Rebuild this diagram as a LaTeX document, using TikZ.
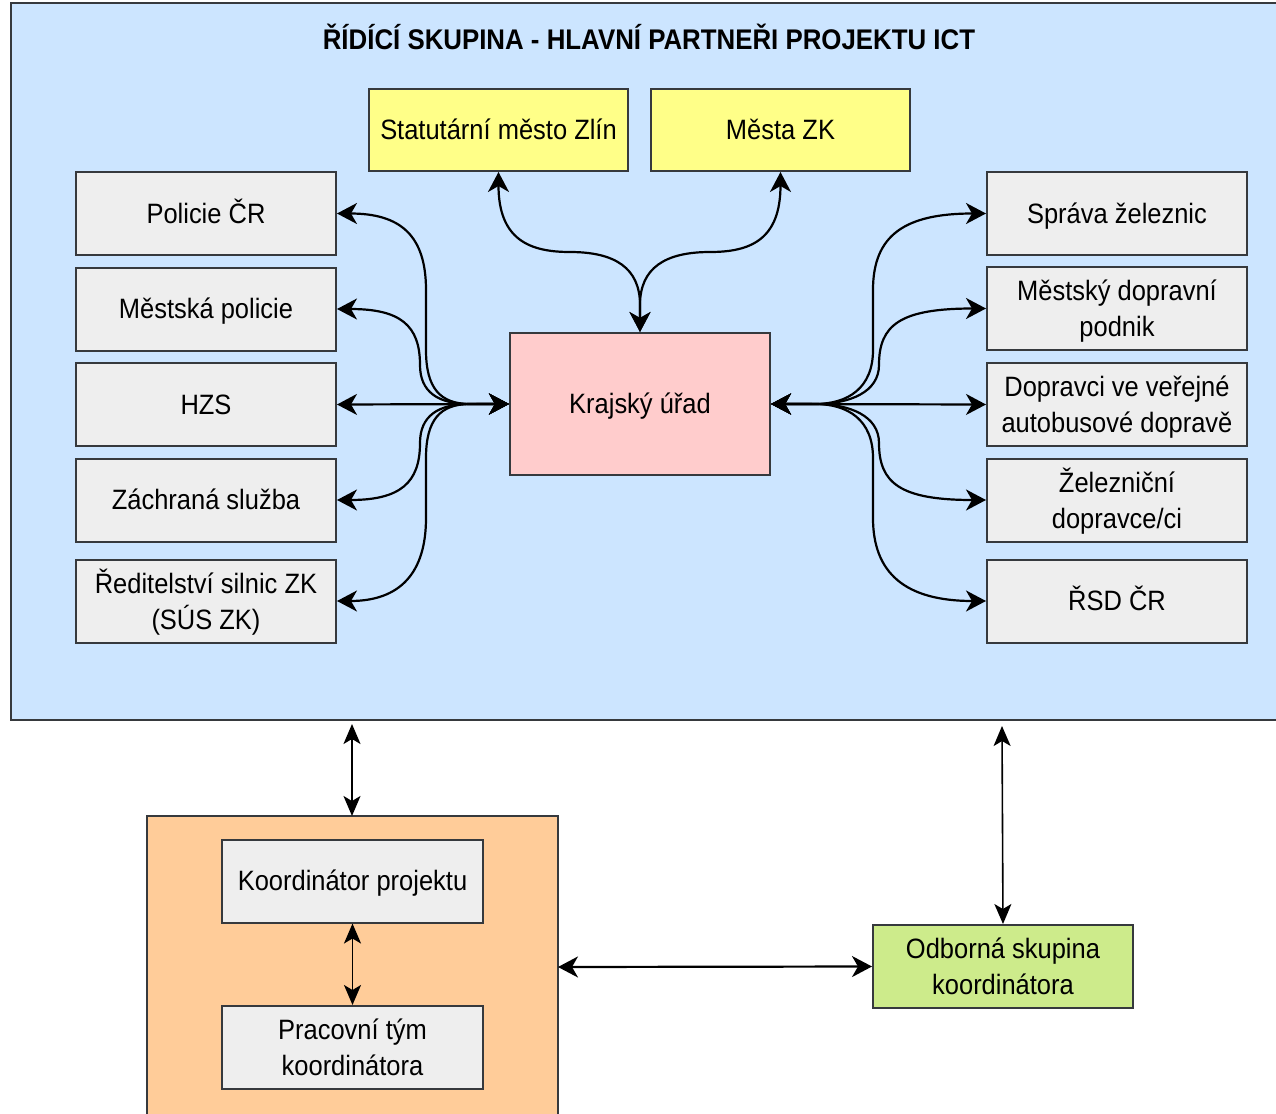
\documentclass[tikz,border=0pt]{standalone}
\usepackage{fontspec}
\setmainfont{Liberation Sans}[FakeStretch=0.91]
\usetikzlibrary{arrows.meta}
\definecolor{bluefill}{RGB}{204,229,255}
\definecolor{yellowfill}{RGB}{255,255,136}
\definecolor{greyfill}{RGB}{238,238,238}
\definecolor{pinkfill}{RGB}{255,204,204}
\definecolor{orangefill}{RGB}{255,204,153}
\definecolor{greenfill}{RGB}{205,235,139}
\definecolor{bordc}{RGB}{54,57,61}
\tikzset{
  box/.style={draw=bordc, line width=1pt, minimum width=130pt, minimum height=41.5pt,
    align=center, inner sep=0pt, font=\fontsize{14}{18}\selectfont,
    text height=9.5pt, text depth=0pt},
  twoline/.style={text height=28.2pt, text depth=0pt},
  greybox/.style={box, fill=greyfill},
  yellowbox/.style={box, fill=yellowfill},
  tip/.tip={Stealth[length=10pt,width=10.5pt,inset=3pt]},
  conn/.style={line width=1.1pt, black, {tip}-{tip}},
  connthin/.style={line width=0.8pt, black, {Stealth[length=10pt,width=8.5pt,inset=2.5pt]}-{Stealth[length=10pt,width=8.5pt,inset=2.5pt]}},
}
\begin{document}
\begin{tikzpicture}[x=0.5pt,y=-0.5pt]
\clip (0,0) rectangle (1276,1114);
\fill[white] (0,0) rectangle (1276,1114);
% containers
\draw[draw=bordc, line width=1pt, fill=bluefill] (11,3) rectangle (1300,720);
\draw[draw=bordc, line width=1pt, fill=orangefill] (147,816) rectangle (558,1130);
\node[font=\bfseries\fontsize{14.2}{18}\selectfont] (title) at (649,37) {ŘÍDÍCÍ SKUPINA - HLAVNÍ PARTNEŘI PROJEKTU ICT};
% top
\node[yellowbox, minimum width=129.5pt, minimum height=41pt] (stat) at (498.5,130) {Statutární město Zlín};
\node[yellowbox, minimum width=129.5pt, minimum height=41pt] (mesta) at (780.5,130) {Města ZK};
% left
\node[greybox] (pol) at (206,213.5) {Policie ČR};
\node[greybox] (mp) at (206,309) {Městská policie};
\node[greybox] (hzs) at (206,404.5) {HZS};
\node[greybox] (zach) at (206,500) {Záchraná služba};
\node[greybox, twoline] (red) at (206,601) {Ředitelství silnic ZK\\(SÚS ZK)};
% right
\node[greybox] (sz) at (1117,213.5) {Správa železnic};
\node[greybox, twoline] (mdp) at (1117,308.5) {Městský dopravní\\podnik};
\node[greybox, twoline] (dop) at (1117,404.5) {Dopravci ve veřejné\\autobusové dopravě};
\node[greybox, twoline] (zel) at (1117,500) {Železniční\\dopravce/ci};
\node[greybox] (rsd) at (1117,601) {ŘSD ČR};
% center
\node[box, fill=pinkfill, minimum height=71pt] (ku) at (640,404) {Krajský úřad};
% bottom
\node[greybox, minimum width=130.5pt] (koord) at (352.5,881) {Koordinátor projektu};
\node[greybox, twoline, minimum width=130.5pt] (prac) at (352.5,1047.5) {Pracovní tým\\koordinátora};
\node[box, twoline, fill=greenfill] (odb) at (1003,966.5) {Odborná skupina\\koordinátora};
\coordinate (blueA) at (352,724);
\coordinate (orangeTop) at (352,816);
\coordinate (blueB) at (1002,726);
\coordinate (orangeRight) at (558,967);
% top connectors
\draw[conn] (ku.north) -- (640,305) .. controls (640,268) and (615,252) .. (570,252) .. controls (530,252) and (498.5,240) .. (stat.south);
\draw[conn] (ku.north) -- (640,305) .. controls (640,268) and (665,252) .. (710,252) .. controls (750,252) and (780.5,240) .. (mesta.south);
% left connectors
\draw[conn] (ku.west) -- (470,404) .. controls (440,404) and (426,388) .. (426,350) -- (426,290) .. controls (426,235) and (400,213.5) .. (pol.east);
\draw[conn] (ku.west) -- (470,404) .. controls (438,404) and (420,392) .. (420,365) .. controls (420,325) and (400,309) .. (mp.east);
\draw[conn] (ku.west) -- (hzs.east);
\draw[conn] (ku.west) -- (470,404) .. controls (438,404) and (420,416) .. (420,443) .. controls (420,483) and (400,500) .. (zach.east);
\draw[conn] (ku.west) -- (470,404) .. controls (440,404) and (426,420) .. (426,458) -- (426,518) .. controls (426,573) and (400,601) .. (red.east);
% right connectors
\draw[conn] (ku.east) -- (815,404) .. controls (848,404) and (873,388) .. (873,350) -- (873,290) .. controls (873,235) and (905,213.5) .. (sz.west);
\draw[conn] (ku.east) -- (815,404) .. controls (850,404) and (879,392) .. (879,365) .. controls (879,325) and (900,308.5) .. (mdp.west);
\draw[conn] (ku.east) -- (dop.west);
\draw[conn] (ku.east) -- (815,404) .. controls (850,404) and (879,416) .. (879,443) .. controls (879,483) and (900,500) .. (zel.west);
\draw[conn] (ku.east) -- (815,404) .. controls (848,404) and (873,420) .. (873,458) -- (873,518) .. controls (873,573) and (905,601) .. (rsd.west);
% bottom connectors
\draw[connthin] (blueA) -- (orangeTop);
\draw[connthin] (blueB) -- (odb.north);
\draw[connthin] (koord.south) -- (prac.north);
\draw[conn] (orangeRight) -- (odb.west);
\end{tikzpicture}
\end{document}
